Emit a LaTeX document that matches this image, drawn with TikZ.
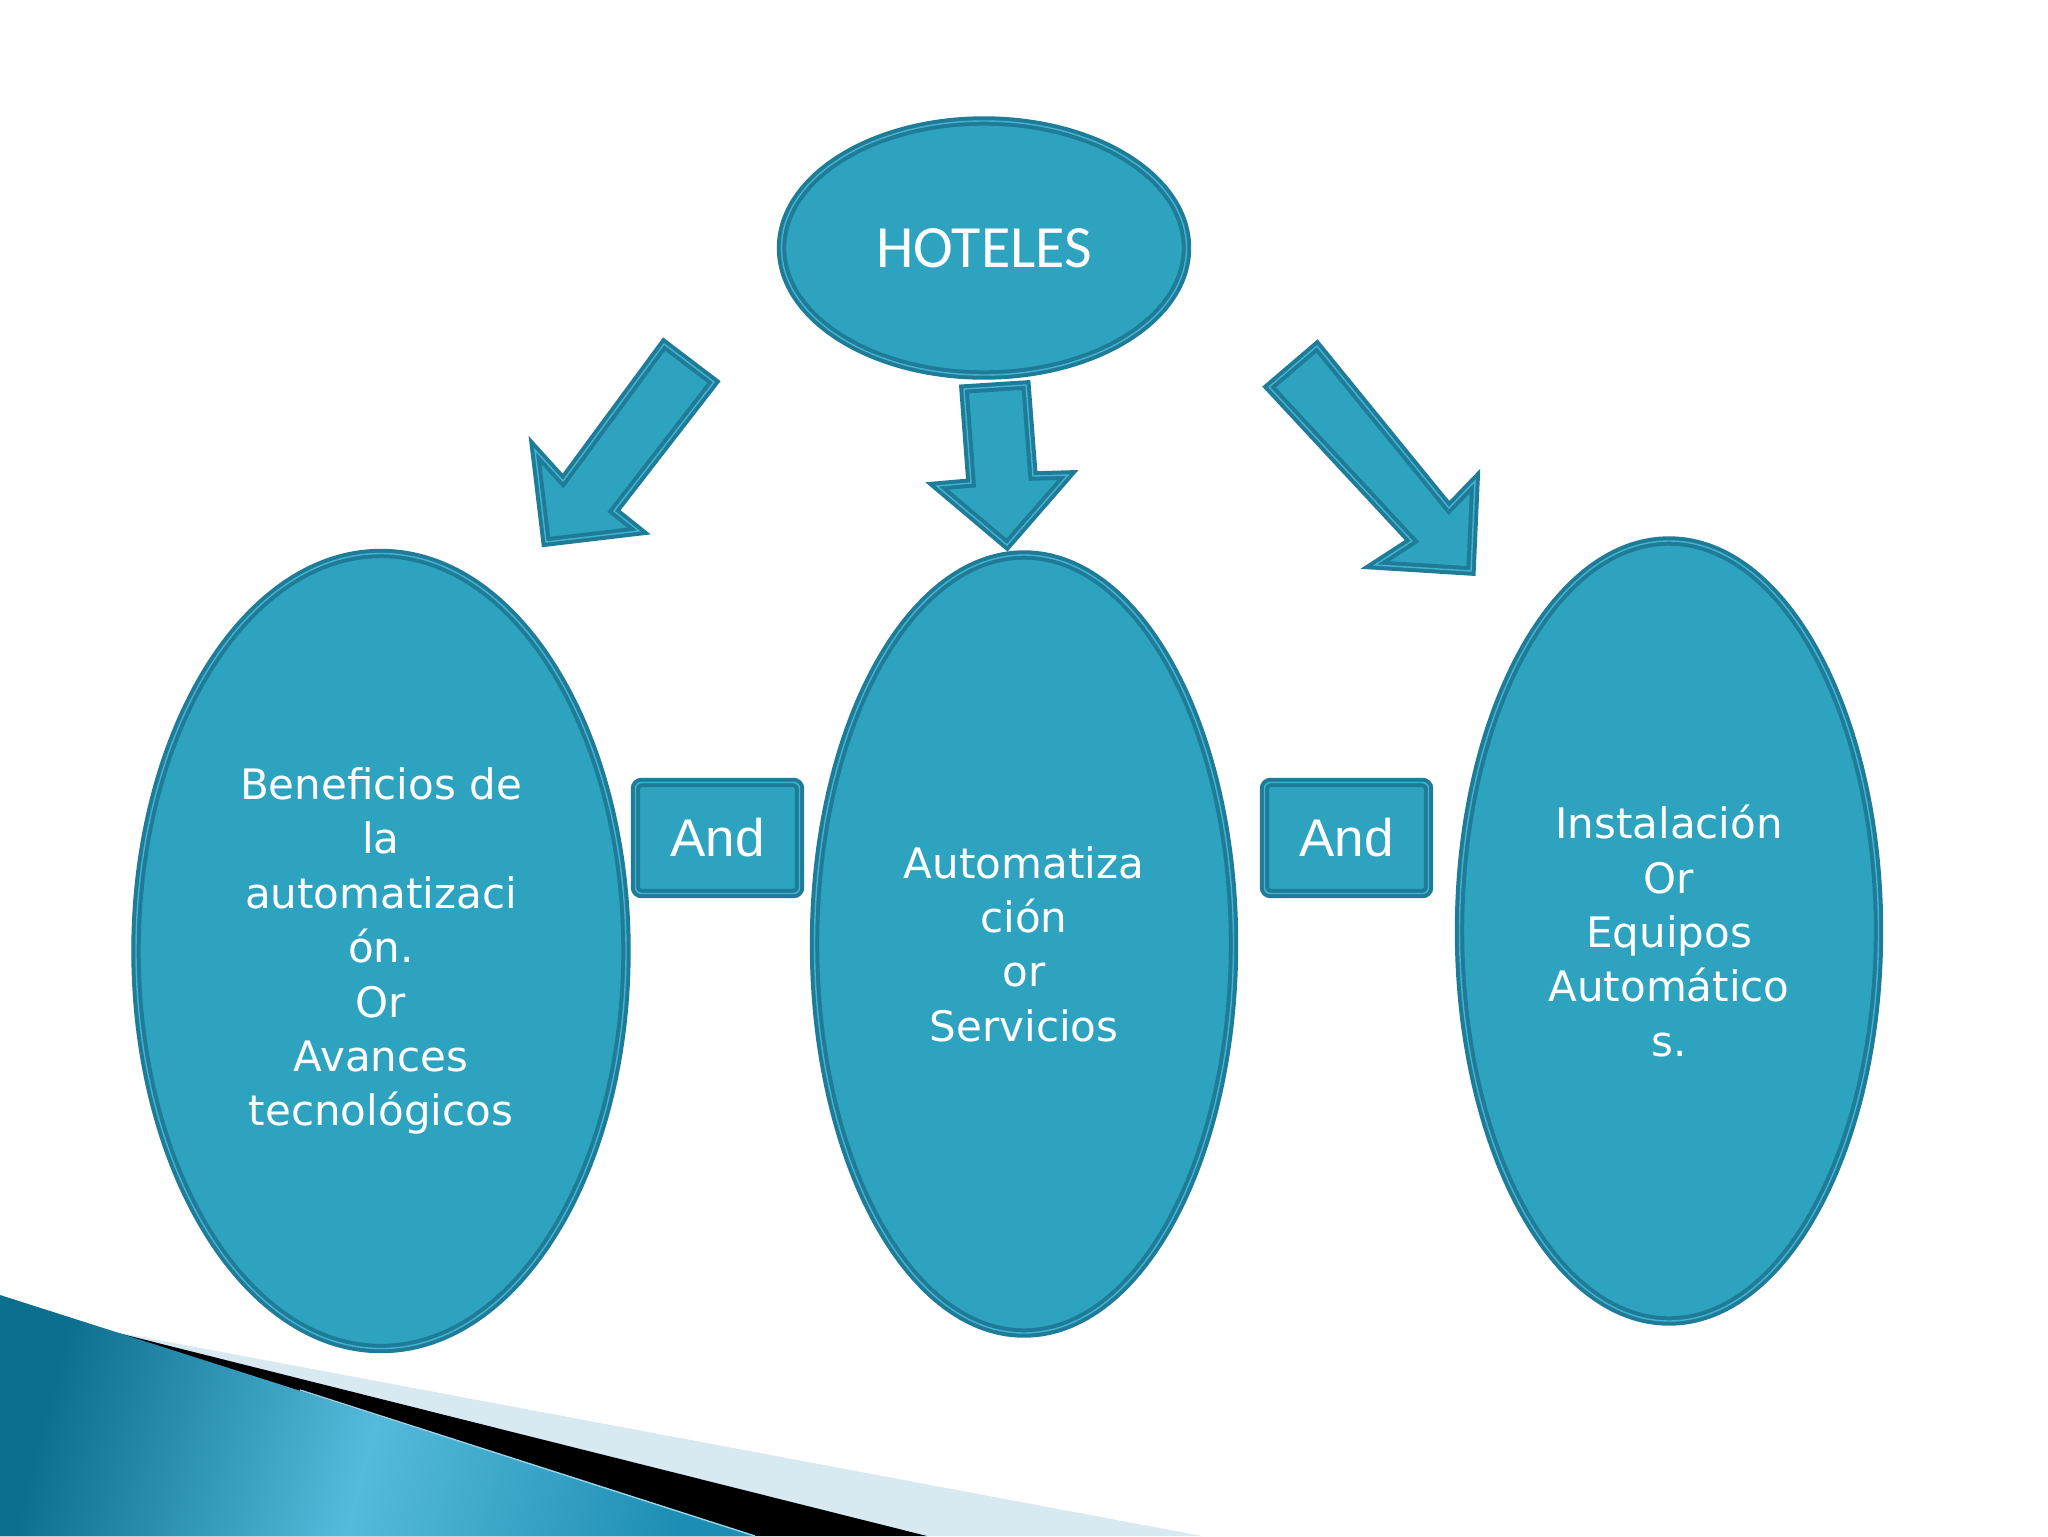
\documentclass[tikz,border=0pt]{standalone}
\usepackage{fontspec}
\setmainfont{DejaVu Sans}
\newfontfamily\calfont{Carlito}
\newfontfamily\arialfont{Liberation Sans}
\usetikzlibrary{shapes.geometric}
\definecolor{tealfill}{HTML}{2EA3C0}
\definecolor{tealdark}{HTML}{1E7C99}
\definecolor{teallight}{HTML}{45B3CF}
\definecolor{palestripe}{HTML}{D8E9F1}
\definecolor{blueD}{HTML}{0D6F8F}
\definecolor{blueL}{HTML}{55BADB}
\definecolor{blueM}{HTML}{1D8EB3}
\begin{document}
\begin{tikzpicture}[x=0.5pt,y=-0.5pt,
  shapebase/.style={fill=tealfill, draw=tealdark, double=teallight, line width=2pt, double distance=0.7pt},
  oval/.style={shapebase, ellipse, inner sep=0pt, text=white, align=center,
    font=\fontsize{21}{27.2}\selectfont},
  andbox/.style={shapebase, rectangle, rounded corners=3pt, inner sep=0pt,
    minimum width=82pt, minimum height=55.5pt, text=white,
    font=\arialfont\fontsize{26.5}{30}\selectfont},
  blockarrow/.style={shapebase, line join=miter}
]
\useasboundingbox (0,0) rectangle (2048,1536);
\fill[white] (0,0) rectangle (2048,1536);

% bottom-left decoration
\fill[palestripe] (110,1331) -- (1202,1536) -- (0,1536) -- cycle;
\fill[black] (110,1331) -- (927,1536) -- (0,1536) -- cycle;
\shade[left color=blueD, right color=blueM, middle color=blueL, shading angle=75]
  (0,1295) -- (755,1536) -- (0,1536) -- cycle;
\draw[blueL!60!white, line width=0.7pt] (300,1390) -- (755,1536);

% nodes
\node[oval, minimum width=202.5pt, minimum height=127pt, font=\calfont\fontsize{30}{36}\selectfont] (hot) at (984,248) {HOTELES};
\node[oval, minimum width=245pt, minimum height=397.5pt] (ben) at (381,951)
  {Beneficios de\\la\\automatizaci\\ón.\\Or\\Avances\\tecnológicos};
\node[oval, minimum width=209.5pt, minimum height=389pt] (aut) at (1024,944)
  {Automatiza\\ción\\or\\Servicios};
\node[oval, minimum width=209.5pt, minimum height=390pt] (ins) at (1669,931)
  {Instalación\\Or\\Equipos\\Automático\\s.};
\node[andbox] (and1) at (717.5,838) {And};
\node[andbox] (and2) at (1346.5,838) {And};

% block arrows
\draw[blockarrow] (664,344) -- (714,382) -- (614,511) -- (639,531) -- (546,542) -- (535,450) -- (563,481) -- cycle;
\draw[blockarrow] (964,389) -- (1026,385) -- (1033,476) -- (1068,475) -- (1007,545) -- (937,486) -- (971,483) -- cycle;
\draw[blockarrow] (1317,346) -- (1269,387) -- (1412,541) -- (1375,565) -- (1471,571) -- (1475,481) -- (1449,508) -- cycle;
\end{tikzpicture}
\end{document}
